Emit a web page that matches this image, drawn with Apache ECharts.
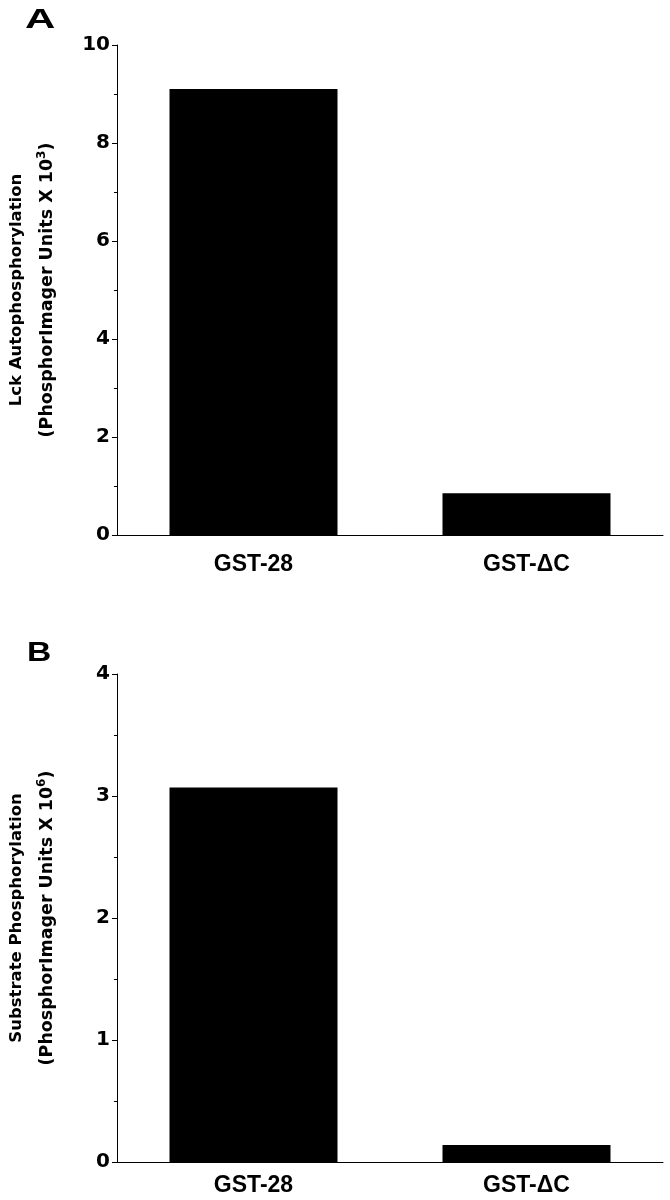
<!DOCTYPE html>
<html>
<head>
<meta charset="utf-8">
<script src="https://cdn.jsdelivr.net/npm/echarts@6/dist/echarts.min.js"></script>
<style>
  html, body { margin: 0; padding: 0; background: #fff; }
  #chart { width: 670px; height: 1200px; }
</style>
</head>
<body>
<div id="chart"></div>
<script>
// 两个面板共用的类别
const categories = ["GST-28", "GST-\u0394C"];
// A: Lck 自磷酸化 (x10^3)
const autoValues = [9.1, 0.85];
// B: 底物磷酸化 (x10^6)
const substrateValues = [3.07, 0.14];

const font = "Liberation Sans, Arial, Helvetica, sans-serif";
const wideFont = "DejaVu Sans, Verdana, sans-serif";

function yAxisOpt(gridIndex, max, interval, line1, exp) {
  return {
    gridIndex: gridIndex,
    type: "value",
    min: 0,
    max: max,
    interval: interval,
    name: "{b|" + line1 + "}\n{a|(PhosphorImager Units X 10}{sup|" + exp + "}{a|)}",
    nameLocation: "middle",
    nameRotate: 90,
    nameGap: 55,
    nameTextStyle: {
      rich: {
        b: { fontFamily: wideFont, fontWeight: "bold", fontSize: 16.5, color: "#000", lineHeight: 30 },
        a: { fontFamily: wideFont, fontWeight: "bold", fontSize: 17.5, color: "#000", lineHeight: 30 },
        sup: { fontFamily: wideFont, fontWeight: "bold", fontSize: 12, color: "#000", padding: [0, 0, 10, 0] }
      }
    },
    axisLine: { show: true, lineStyle: { color: "#000", width: 1 } },
    axisTick: { show: true, inside: false, length: 5, lineStyle: { color: "#000" } },
    minorTick: { show: true, splitNumber: 2, length: 3, lineStyle: { color: "#000" } },
    splitLine: { show: false },
    axisLabel: { fontFamily: wideFont, fontWeight: "bold", fontSize: 20, color: "#000", margin: 7 }
  };
}

function xAxisOpt(gridIndex, margin) {
  return {
    gridIndex: gridIndex,
    type: "category",
    data: categories,
    axisLine: { show: true, lineStyle: { color: "#000", width: 1 } },
    axisTick: { show: false },
    axisLabel: { fontFamily: font, fontWeight: "bold", fontSize: 23, color: "#000", margin: margin }
  };
}

let myChart = echarts.init(document.getElementById("chart"), null, { renderer: "canvas" });
myChart.setOption({
  animation: false,
  backgroundColor: "#fff",
  graphic: [
    { type: "text", x: 25, y: 20, scaleX: 1.5, style: { text: "A", fontFamily: font, fontWeight: "bold", fontSize: 28, fill: "#000", verticalAlign: "middle" } },
    { type: "text", x: 27, y: 653, scaleX: 1.2, style: { text: "B", fontFamily: font, fontWeight: "bold", fontSize: 28, fill: "#000", verticalAlign: "middle" } }
  ],
  grid: [
    { left: 117, right: 7, top: 45, height: 490, outerBoundsMode: "none", containLabel: false },
    { left: 117, right: 7, top: 674, height: 488, outerBoundsMode: "none", containLabel: false }
  ],
  xAxis: [xAxisOpt(0, 18), xAxisOpt(1, 12)],
  yAxis: [
    yAxisOpt(0, 10, 2, "Lck Autophosphorylation", "3"),
    yAxisOpt(1, 4, 1, "Substrate Phosphorylation", "6")
  ],
  series: [
    { type: "bar", xAxisIndex: 0, yAxisIndex: 0, data: autoValues, barWidth: 168, itemStyle: { color: "#000" } },
    { type: "bar", xAxisIndex: 1, yAxisIndex: 1, data: substrateValues, barWidth: 168, itemStyle: { color: "#000" } }
  ]
});
</script>
</body>
</html>
